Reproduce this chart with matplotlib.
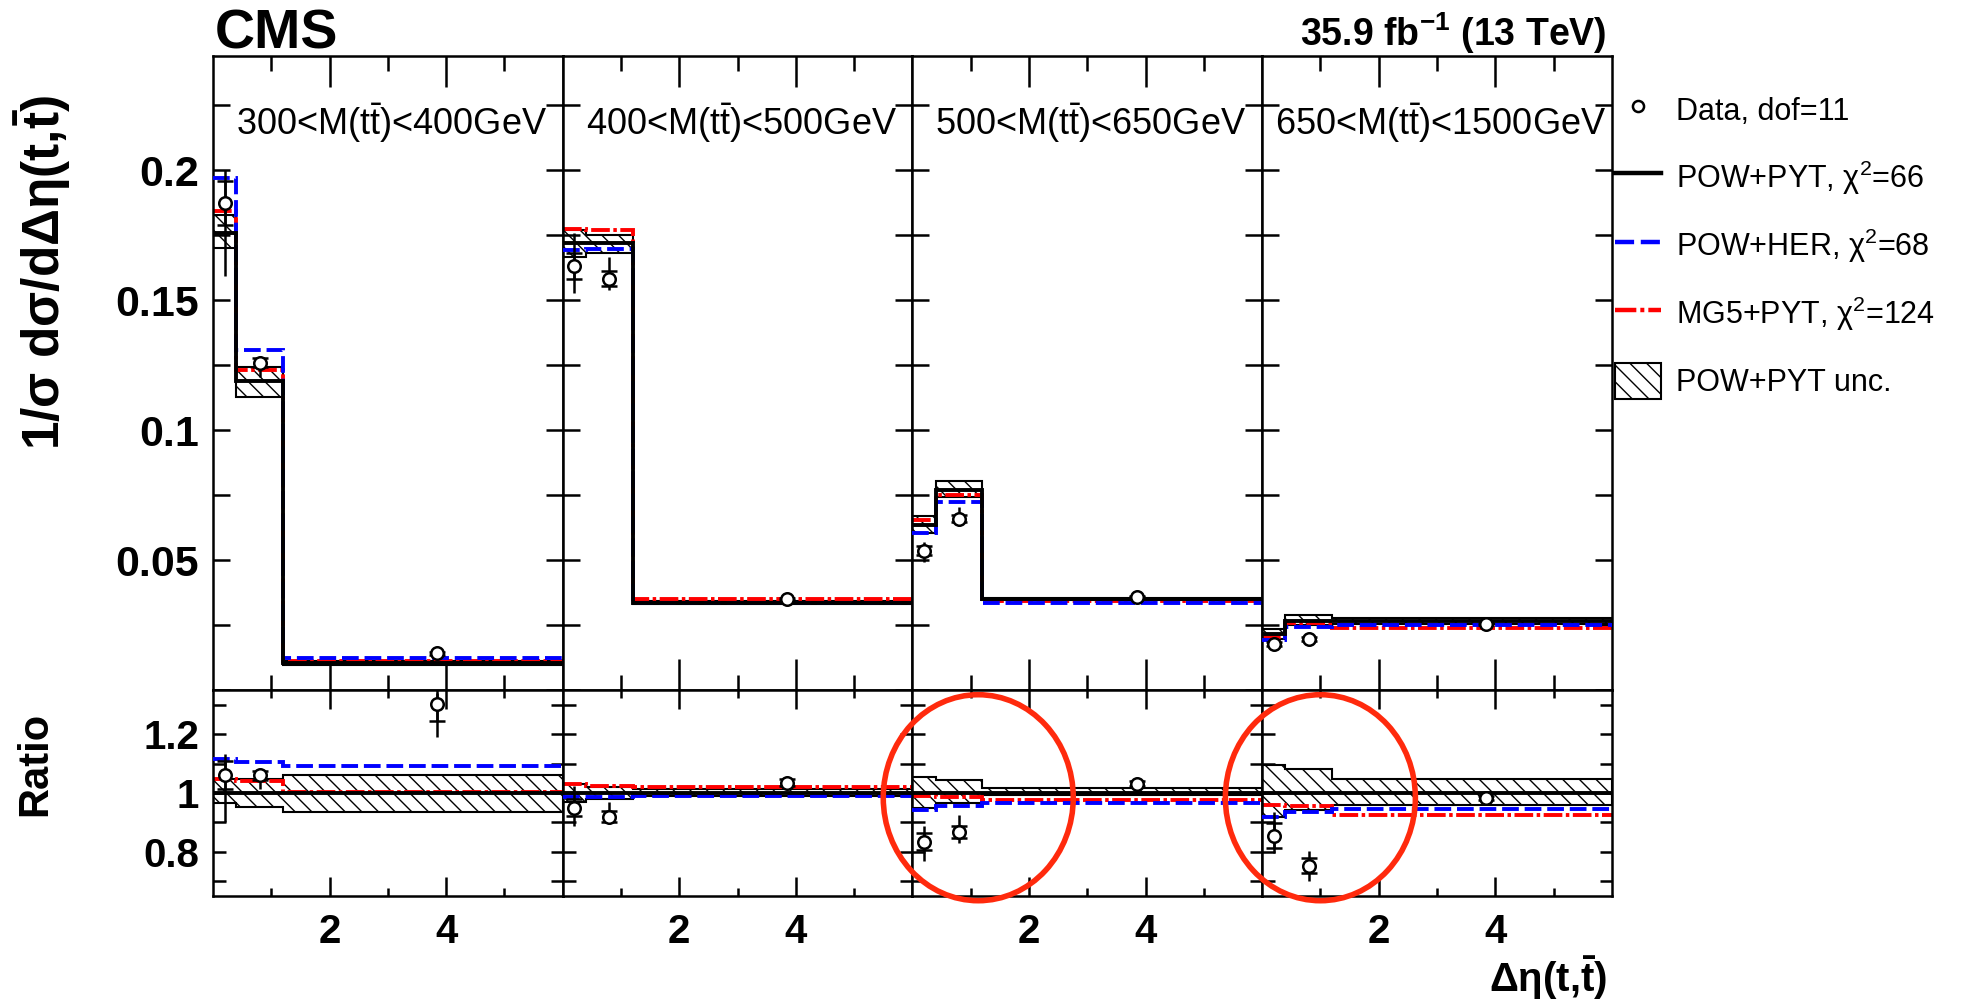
import matplotlib
matplotlib.use('Agg')
import matplotlib.pyplot as plt
import numpy as np
from matplotlib.lines import Line2D
from matplotlib.patches import Patch, Ellipse
from matplotlib.ticker import MultipleLocator, FixedLocator, FuncFormatter

plt.rcParams['font.family'] = ['Liberation Sans', 'DejaVu Sans']
plt.rcParams['mathtext.fontset'] = 'custom'
plt.rcParams['mathtext.rm'] = 'Liberation Sans'
plt.rcParams['mathtext.it'] = 'Liberation Sans:italic'
plt.rcParams['mathtext.bf'] = 'Liberation Sans:bold'
plt.rcParams['hatch.linewidth'] = 1.0

# binning in delta eta, and data point positions
edges = [0, 0.4, 1.2, 6]
data_x = [0.2, 0.8, 3.85]

mass_bins = ['300<M(t$\\bar{\\mathrm{t}}$)<400GeV', '400<M(t$\\bar{\\mathrm{t}}$)<500GeV',
             '500<M(t$\\bar{\\mathrm{t}}$)<650GeV', '650<M(t$\\bar{\\mathrm{t}}$)<1500GeV']

# normalised cross sections, one list per mass bin
pow_pyt = [[0.176, 0.119, 0.0105], [0.172, 0.172, 0.0336],
           [0.0635, 0.0769, 0.0349], [0.0215, 0.0265, 0.0265]]
pow_her = [[0.197, 0.131, 0.0124], [0.1695, 0.1697, 0.0334],
           [0.0603, 0.0724, 0.0333], [0.0192, 0.0241, 0.0250]]
mg5_pyt = [[0.1845, 0.1232, 0.0110], [0.1776, 0.1770, 0.0349],
           [0.0654, 0.0750, 0.0342], [0.0203, 0.0259, 0.0237]]
unc_lo = [[0.170, 0.1128, 0.0098], [0.1667, 0.1682, 0.0331],
          [0.0603, 0.0743, 0.0347], [0.0198, 0.0250, 0.0254]]
unc_hi = [[0.183, 0.1243, 0.0112], [0.1769, 0.1753, 0.0341],
          [0.0670, 0.0804, 0.0355], [0.0236, 0.0287, 0.0278]]
data = [[0.1875, 0.126, 0.0142], [0.1632, 0.1583, 0.0349],
        [0.0536, 0.066, 0.0359], [0.0177, 0.0196, 0.0254]]
err_up = [[0.0125, 0.0025, 0.0004], [0.0126, 0.0084, 0.0005],
          [0.0034, 0.0045, 0.0004], [0.0017, 0.0013, 0.0003]]
err_dn = [[0.028, 0.0057, 0.0012], [0.0105, 0.0045, 0.0005],
          [0.0043, 0.0029, 0.0004], [0.0013, 0.0014, 0.0003]]
err_stat = [[0.0085, 0.0018, 0.0006], [0.005, 0.003, 0.0004],
            [0.0018, 0.0015, 0.0003], [0.0009, 0.0007, 0.0002]]

# ratios to POW+PYT
r_data = [[1.062, 1.06, 1.303], [0.95, 0.92, 1.035],
          [0.835, 0.867, 1.032], [0.855, 0.753, 0.983]]
r_her = [[1.117, 1.105, 1.093], [0.985, 0.985, 0.99],
         [0.943, 0.955, 0.966], [0.92, 0.935, 0.945]]
r_mg5 = [[1.048, 1.04, 1.002], [1.03, 1.025, 1.02],
         [0.989, 0.985, 0.975], [0.96, 0.955, 0.926]]
r_lo = [[0.966, 0.951, 0.935], [0.97, 0.978, 0.99],
        [0.949, 0.966, 0.994], [0.92, 0.943, 0.96]]
r_hi = [[1.049, 1.049, 1.062], [1.03, 1.02, 1.012],
        [1.056, 1.045, 1.017], [1.096, 1.082, 1.048]]

# red circles drawn on the ratio panels: (panel, x, y)
circled = [(2, 1.13, 0.984), (3, 1.0, 0.984)]

blue_dash = (0, (4.3, 1.5))
red_dashdot = (0, (4.8, 0.9, 0.9, 0.9))

fig = plt.figure(figsize=(19.64, 10.02), dpi=100)

left, width = 213 / 1964, 349.7 / 1964
main_b, main_h = 1 - 690 / 1002, 634 / 1002
rat_b, rat_h = 1 - 896 / 1002, 206 / 1002

fmt = FuncFormatter(lambda v, p: '' if abs(v) < 1e-9 else '%g' % v)


def style(ax, ylen):
    ax.tick_params(which='both', direction='in', top=True, right=True, width=1.8)
    ax.tick_params(axis='y', which='both', length=ylen)
    for s in ax.spines.values():
        s.set_linewidth(1.8)


for i in range(4):
    x0 = left + i * width
    ax = fig.add_axes([x0, main_b, width, main_h])
    rx = fig.add_axes([x0, rat_b, width, rat_h])

    # main panel
    ax.stairs(unc_hi[i], edges, baseline=unc_lo[i], fill=True, facecolor='white',
              edgecolor='black', hatch='\\\\', lw=1.5, zorder=1)
    ax.stairs(mg5_pyt[i], edges, baseline=None, color='red', lw=2.8, ls=red_dashdot, zorder=2)
    ax.stairs(pow_her[i], edges, baseline=None, color='blue', lw=2.8, ls=blue_dash, zorder=3)
    ax.stairs(pow_pyt[i], edges, baseline=None, color='black', lw=2.8, zorder=4)
    ax.errorbar(data_x, data[i], yerr=[err_dn[i], err_up[i]], fmt='none',
                ecolor='black', elinewidth=1.8, capsize=0, zorder=5)
    ax.errorbar(data_x, data[i], yerr=err_stat[i], fmt='none', ecolor='black',
                elinewidth=1.8, capsize=6, capthick=1.8, zorder=5)
    ax.plot(data_x, data[i], 'o', mfc='white', mec='black', ms=9, mew=1.8, zorder=6)
    ax.text(0.51, 0.894, mass_bins[i], transform=ax.transAxes, ha='center', va='center',
            fontsize=26)

    ax.set_xlim(0, 6)
    ax.set_ylim(0, 0.244)
    ax.xaxis.set_major_locator(FixedLocator([2, 4]))
    ax.xaxis.set_minor_locator(FixedLocator([1, 3, 5]))
    ax.yaxis.set_major_locator(MultipleLocator(0.05))
    ax.yaxis.set_minor_locator(MultipleLocator(0.025))
    ax.yaxis.set_major_formatter(fmt)
    style(ax, 12)
    ax.tick_params(axis='x', which='major', length=22)
    ax.tick_params(axis='x', which='minor', length=11)
    ax.tick_params(axis='x', labelbottom=False)
    if i == 0:
        ax.tick_params(axis='y', labelsize=31, pad=10)
        for t in ax.get_yticklabels():
            t.set_fontweight('bold')
    else:
        ax.tick_params(axis='y', labelleft=False)

    # ratio panel
    r_err_dn = np.array(err_dn[i]) / np.array(pow_pyt[i])
    r_err_up = np.array(err_up[i]) / np.array(pow_pyt[i])
    r_err_st = np.array(err_stat[i]) / np.array(pow_pyt[i])
    rx.stairs(r_hi[i], edges, baseline=r_lo[i], fill=True, facecolor='white',
              edgecolor='black', hatch='\\\\', lw=1.5, zorder=1)
    rx.stairs(r_mg5[i], edges, baseline=None, color='red', lw=2.8, ls=red_dashdot, zorder=2)
    rx.stairs(r_her[i], edges, baseline=None, color='blue', lw=2.8, ls=blue_dash, zorder=3)
    rx.stairs(np.ones(3), edges, baseline=None, color='black', lw=2.8, zorder=4)
    rx.errorbar(data_x, r_data[i], yerr=[r_err_dn, r_err_up], fmt='none',
                ecolor='black', elinewidth=1.8, capsize=0, zorder=5)
    rx.errorbar(data_x, r_data[i], yerr=r_err_st, fmt='none', ecolor='black',
                elinewidth=1.8, capsize=6, capthick=1.8, zorder=5)
    rx.plot(data_x, r_data[i], 'o', mfc='white', mec='black', ms=9, mew=1.8, zorder=6)

    rx.set_xlim(0, 6)
    rx.set_ylim(0.65, 1.35)
    rx.xaxis.set_major_locator(FixedLocator([2, 4]))
    rx.xaxis.set_minor_locator(FixedLocator([1, 3, 5]))
    rx.yaxis.set_major_locator(MultipleLocator(0.2))
    rx.yaxis.set_minor_locator(MultipleLocator(0.1))
    rx.yaxis.set_major_formatter(fmt)
    style(rx, 9)
    rx.tick_params(axis='x', which='major', length=14, labelsize=29, pad=12)
    rx.tick_params(axis='x', which='minor', length=6)
    for t in rx.get_xticklabels():
        t.set_fontweight('bold')
    if i == 0:
        rx.tick_params(axis='y', labelsize=29, pad=10)
        for t in rx.get_yticklabels():
            t.set_fontweight('bold')
    else:
        rx.tick_params(axis='y', labelleft=False)

    for p, cx, cy in circled:
        if p == i:
            rx.add_patch(Ellipse((cx, cy), 3.26, 0.70, fill=False, ec='#ff2a0d', lw=4,
                                 clip_on=False, zorder=10))

# header texts
fig.text(215 / 1964, 0.952, 'CMS', fontsize=40, fontweight='bold',
         family=['Liberation Sans Narrow', 'Liberation Sans'], ha='left', va='baseline')
fig.text(1607 / 1964, 0.954, '35.9 fb$^{\\mathbf{-1}}$ (13 TeV)', fontsize=27, fontweight='bold',
         family=['Liberation Sans Narrow', 'Liberation Sans'], ha='right', va='baseline')

# axis titles
fig.text(0.022, 0.728, '1/σ dσ/dΔη(t,$\\mathbf{\\bar{t}}$)', rotation=90, fontsize=37,
         fontweight='bold', ha='center', va='center')
fig.text(0.0178, 0.2375, 'Ratio', rotation=90, fontsize=30, fontweight='bold',
         ha='center', va='center')
fig.text(1607 / 1964, 0.024, 'Δη(t,$\\mathbf{\\bar{t}}$)', fontsize=29, fontweight='bold',
         ha='right', va='center')

# legend
handles = [
    Line2D([], [], marker='o', ls='none', mfc='white', mec='black', ms=8, mew=1.8),
    Line2D([], [], color='black', lw=3.2),
    Line2D([], [], color='blue', lw=3.2, ls=blue_dash),
    Line2D([], [], color='red', lw=3.2, ls=red_dashdot),
    Patch(facecolor='white', edgecolor='black', hatch='\\\\', lw=1.5),
]
labels = ['Data, dof=11', 'POW+PYT, χ$^2$=66', 'POW+HER, χ$^2$=68',
          'MG5+PYT, χ$^2$=124', 'POW+PYT unc.']
fig.legend(handles, labels, loc='upper left', bbox_to_anchor=(1615 / 1964, 1 - 92 / 1002),
           frameon=False, fontsize=22, handlelength=1.5, handleheight=1.45,
           labelspacing=0.98, handletextpad=0.5, borderaxespad=0, borderpad=0)

plt.savefig('out.png', dpi=100)
